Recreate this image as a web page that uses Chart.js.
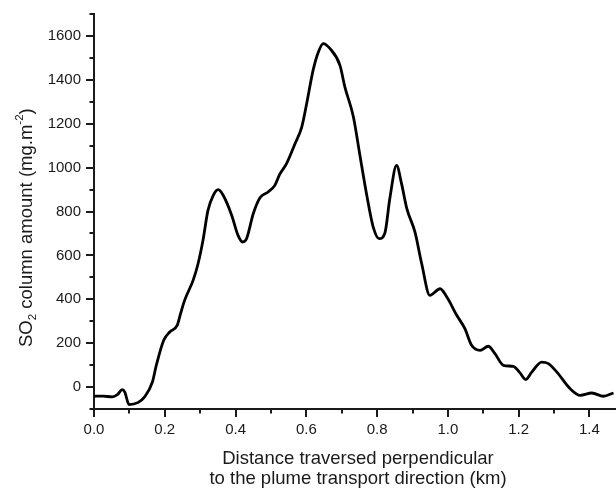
<!DOCTYPE html>
<html>
<head>
<meta charset="utf-8">
<script src="https://cdn.jsdelivr.net/npm/chart.js@4.4.0/dist/chart.umd.min.js"></script>
<style>
    html, body { margin: 0; padding: 0; background: #fff; }
    canvas { display: block; }
</style>
</head>
<body>
<canvas id="chartCanvas" width="616" height="491"></canvas>
<script>
// distance perpendicular to the plume (km)
const distance = [
    0.000, 0.025, 0.052, 0.066, 0.080, 0.087, 0.099, 0.124, 0.143, 0.165,
    0.176, 0.197, 0.214, 0.235, 0.244, 0.256, 0.280, 0.294, 0.308, 0.322,
    0.337, 0.351, 0.365, 0.389, 0.407, 0.420, 0.431, 0.450, 0.469, 0.492,
    0.511, 0.525, 0.544, 0.568, 0.587, 0.601, 0.619, 0.634, 0.648, 0.667,
    0.695, 0.709, 0.733, 0.751, 0.770, 0.789, 0.806, 0.822, 0.836, 0.855,
    0.869, 0.884, 0.907, 0.926, 0.949, 0.978, 0.997, 1.025, 1.048, 1.067,
    1.091, 1.114, 1.133, 1.157, 1.185, 1.202, 1.220, 1.237, 1.265, 1.284,
    1.308, 1.345, 1.374, 1.407, 1.439, 1.468
];
// SO2 column amount (mg.m-2)
const so2 = [
    -42, -41, -45, -35, -12, -23, -80, -71, -45, 23,
    99, 213, 251, 281, 331, 395, 486, 562, 669, 805,
    874, 900, 874, 783, 691, 661, 676, 790, 863, 889,
    919, 970, 1018, 1109, 1185, 1292, 1443, 1527, 1565, 1542,
    1466, 1367, 1231, 1060, 881, 729, 676, 702, 860, 1010,
    927, 813, 706, 562, 418, 448, 410, 327, 266, 190,
    167, 186, 152, 99, 94, 68, 34, 68, 114, 107,
    68, -7, -38, -27, -42, -27
];
const xTickLabels = ['0.0', '0.2', '0.4', '0.6', '0.8', '1.0', '1.2', '1.4'];
const yTickLabels = ['0', '200', '400', '600', '800', '1000', '1200', '1400', '1600'];

const FONT = '"Liberation Sans", Arial, sans-serif';
const INK = '#1a1a1a';

// major / minor tick marks and the axis titles (with sub/superscripts)
const axisExtras = {
    id: 'axisExtras',
    afterDraw(chart) {
        const ctx = chart.ctx;
        const xs = chart.scales.x;
        const ys = chart.scales.y;
        const area = chart.chartArea;
        ctx.save();
        ctx.strokeStyle = INK;
        ctx.lineWidth = 2;
        ctx.beginPath();
        xs.ticks.forEach(t => {
            const k = Math.round(t.value * 10);
            if (Math.abs(t.value * 10 - k) > 1e-6) return;
            const px = Math.round(xs.getPixelForValue(t.value));
            const len = k % 2 === 0 ? 8 : 4.5;
            ctx.moveTo(px, area.bottom);
            ctx.lineTo(px, area.bottom + len);
        });
        ys.ticks.forEach(t => {
            const py = Math.round(ys.getPixelForValue(t.value));
            const len = t.value % 200 === 0 ? 8 : 4.5;
            ctx.moveTo(area.left, py);
            ctx.lineTo(area.left - len, py);
        });
        ctx.stroke();

        ctx.fillStyle = INK;
        // x title
        ctx.font = '18.5px ' + FONT;
        ctx.textAlign = 'center';
        ctx.textBaseline = 'alphabetic';
        ctx.fillText('Distance traversed perpendicular', 358, 464);
        ctx.fillText('to the plume transport direction (km)', 358, 484);

        // y title
        const parts = [
            { t: 'SO', k: 'n' },
            { t: '2', k: 'sub' },
            { t: ' column amount (mg.m', k: 'n' },
            { t: '-2', k: 'sup' },
            { t: ')', k: 'n' }
        ];
        ctx.translate(31.5, 347);
        ctx.rotate(-Math.PI / 2);
        ctx.textAlign = 'left';
        let x = 0;
        parts.forEach(p => {
            let dy = 0;
            if (p.k === 'n') {
                ctx.font = '18.5px ' + FONT;
            } else {
                ctx.font = '11.5px ' + FONT;
                dy = p.k === 'sub' ? 4 : -9;
            }
            ctx.fillText(p.t, x, dy);
            x += ctx.measureText(p.t).width;
        });
        ctx.restore();
    }
};

new Chart(document.getElementById('chartCanvas'), {
    type: 'scatter',
    data: {
        datasets: [{
            data: distance.map((d, i) => ({ x: d, y: so2[i] })),
            showLine: true,
            borderColor: '#000',
            borderWidth: 2.8,
            pointRadius: 0,
            tension: 0.4,
            cubicInterpolationMode: 'monotone'
        }]
    },
    options: {
        responsive: false,
        animation: false,
        layout: { padding: { top: 14, right: 0, bottom: 0, left: 0 } },
        plugins: {
            legend: { display: false },
            tooltip: { enabled: false }
        },
        scales: {
            x: {
                type: 'linear',
                min: 0,
                max: 1.475,
                grid: { display: false },
                border: { display: true, color: INK, width: 2 },
                ticks: {
                    stepSize: 0.1,
                    includeBounds: false,
                    autoSkip: false,
                    maxRotation: 0,
                    padding: 4,
                    color: INK,
                    font: { family: FONT, size: 15 },
                    callback: v => {
                        const s = v.toFixed(1);
                        return xTickLabels.includes(s) ? s : '';
                    }
                },
                afterFit: s => { s.height = 82; }
            },
            y: {
                type: 'linear',
                min: -100,
                max: 1700,
                grid: { display: false },
                border: { display: true, color: INK, width: 2 },
                ticks: {
                    stepSize: 100,
                    includeBounds: false,
                    autoSkip: false,
                    padding: 5,
                    color: INK,
                    font: { family: FONT, size: 15 },
                    callback: v => yTickLabels.includes(String(v)) ? String(v) : ''
                },
                afterFit: s => { s.width = 94; }
            }
        }
    },
    plugins: [axisExtras]
});
</script>
</body>
</html>
